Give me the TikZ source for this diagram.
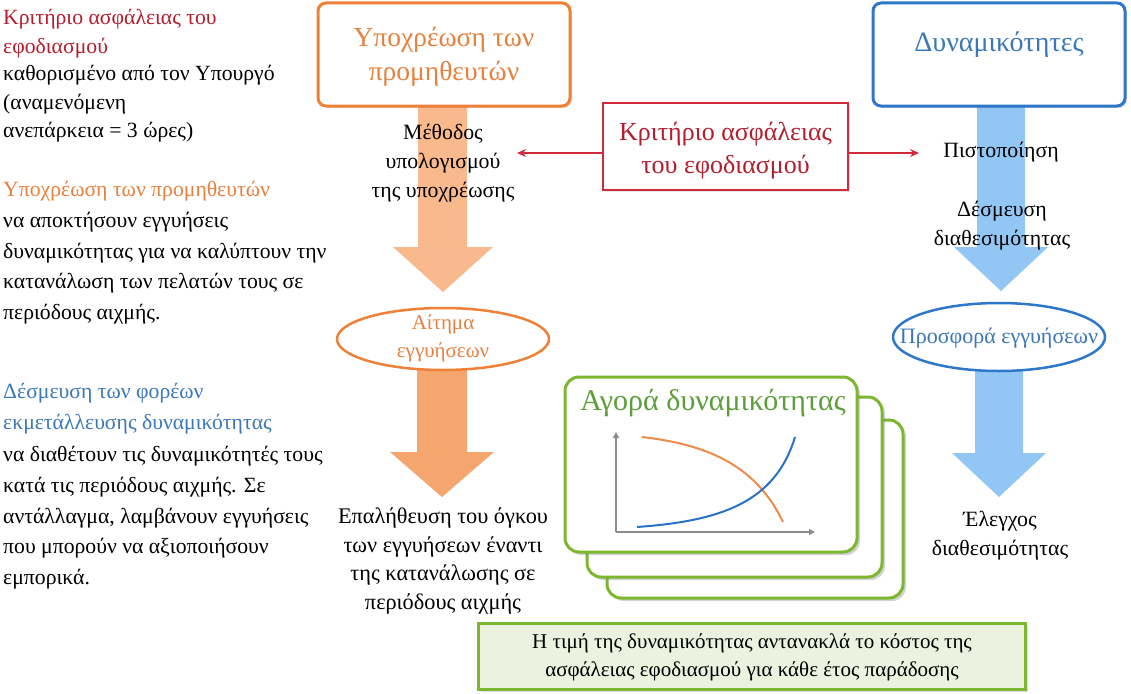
\documentclass[tikz,border=0pt]{standalone}
\usepackage{fontspec}
\setmainfont{Liberation Serif}
\usetikzlibrary{arrows.meta,shapes.geometric,shadows}
\definecolor{cOr}{HTML}{EE8037}
\definecolor{cOrT}{HTML}{E8803E}
\definecolor{cOrA}{HTML}{F8B98C}
\definecolor{cOrB}{HTML}{F5A66E}
\definecolor{cBl}{HTML}{2F78C9}
\definecolor{cBlT}{HTML}{3B78B8}
\definecolor{cBlA}{HTML}{92C6F5}
\definecolor{cRd}{HTML}{D02A3C}
\definecolor{cRdT}{HTML}{B51E2E}
\definecolor{cGr}{HTML}{7DB72F}
\definecolor{cGrT}{HTML}{5E9E3A}
\definecolor{cGrF}{HTML}{EBF2DF}
\definecolor{cAx}{HTML}{8C8C8C}
\definecolor{cCurO}{HTML}{F08A4B}
\definecolor{cCurB}{HTML}{2A72C8}
\begin{document}
\begin{tikzpicture}[x=1pt,y=-1pt,
  lefttxt/.style={anchor=base west,inner sep=0pt,font=\fontsize{21.7}{24}\selectfont},
  midtxt/.style={align=center,inner sep=0pt,font=\fontsize{21.8}{29}\selectfont},
  topbox/.style={draw,line width=3pt,rounded corners=8pt,fill=white,minimum width=252pt,minimum height=103pt,inner sep=0pt,drop shadow={opacity=.25,shadow xshift=2pt,shadow yshift=-2pt}},
  ell/.style={ellipse,draw,line width=2.5pt,fill=white,inner sep=0pt},
  gbox/.style={draw=cGr,line width=3pt,rounded corners=14pt,fill=white,inner sep=0pt,drop shadow={opacity=.35,shadow xshift=3pt,shadow yshift=-3pt}},
  redarr/.style={draw=cRd,line width=2pt,-{Stealth[length=9pt,width=8pt]}},
  axis/.style={draw=cAx,line width=1.6pt,-{Triangle[length=6pt,width=6pt]}}
]
\useasboundingbox (0,0) rectangle (1131,693);

% left texts
\node[lefttxt,text=cRdT] (l1) at (3,25) {Κριτήριο ασφάλειας του};
\node[lefttxt,text=cRdT] (l2) at (3,53) {εφοδιασμού};
\node[lefttxt] (l3) at (3,81) {καθορισμένο από τον Υπουργό};
\node[lefttxt] (l4) at (3,109) {(αναμενόμενη};
\node[lefttxt] (l5) at (3,137) {ανεπάρκεια = 3 ώρες)};

\node[lefttxt,text=cOrT] (m1) at (3,196) {Υποχρέωση των προμηθευτών};
\node[lefttxt] (m2) at (3,227) {να αποκτήσουν εγγυήσεις};
\node[lefttxt] (m3) at (3,258) {δυναμικότητας για να καλύπτουν την};
\node[lefttxt] (m4) at (3,288) {κατανάλωση των πελατών τους σε};
\node[lefttxt] (m5) at (3,319) {περιόδους αιχμής.};

\node[lefttxt,text=cBlT] (n1) at (3,398) {Δέσμευση των φορέων};
\node[lefttxt,text=cBlT] (n2) at (3,429) {εκμετάλλευσης δυναμικότητας};
\node[lefttxt] (n3) at (3,461) {να διαθέτουν τις δυναμικότητές τους};
\node[lefttxt] (n4) at (3,492) {κατά τις περιόδους αιχμής. Σε};
\node[lefttxt] (n5) at (3,523) {αντάλλαγμα, λαμβάνουν εγγυήσεις};
\node[lefttxt] (n6) at (3,553) {που μπορούν να αξιοποιήσουν};
\node[lefttxt] (n7) at (3,584) {εμπορικά.};

% block arrows
\fill[cOrA] (418,104) -- (467,104) -- (467,247) -- (493,247) -- (443,292) -- (393,247) -- (418,247) -- cycle;
\fill[cOrB] (417,368) -- (467,368) -- (467,452) -- (494,452) -- (442,497) -- (390,452) -- (417,452) -- cycle;
\fill[cBlA] (977,104) -- (1025,104) -- (1025,247) -- (1048,247) -- (1001,291) -- (954,247) -- (977,247) -- cycle;
\fill[cBlA] (975,370) -- (1023,370) -- (1023,453) -- (1046,453) -- (999,497) -- (952,453) -- (975,453) -- cycle;

% top boxes
\node[topbox,draw=cOr] (sup) at (444,54.5) {};
\node[midtxt,text=cOrT,font=\fontsize{27.5}{34}\selectfont] (supt) at (444,57) {Υποχρέωση των\\προμηθευτών};
\node[topbox,draw=cBl] (cap) at (999,54.5) {};
\node[midtxt,text=cBlT,font=\fontsize{28}{34}\selectfont] (capt) at (999,45) {Δυναμικότητες};

% red criterion box
\node[draw=cRd,line width=2pt,fill=white,minimum width=245pt,minimum height=87pt,inner sep=0pt,
      drop shadow={opacity=.2,shadow xshift=2pt,shadow yshift=-2pt}] (crit) at (725.5,146.5) {};
\node[midtxt,text=cRdT,font=\fontsize{26}{33}\selectfont] (critt) at (725.5,151) {Κριτήριο ασφάλειας\\του εφοδιασμού};
\coordinate (rl) at (517,153);
\coordinate (rr) at (919,153);
\draw[redarr] ([yshift=-6.5pt]crit.west) -- (rl);
\draw[redarr] ([yshift=-6.5pt]crit.east) -- (rr);

% mid texts
\node[midtxt] (meth) at (443,163) {Μέθοδος\\υπολογισμού\\της υποχρέωσης};
\node[midtxt] (pist) at (1001,152) {Πιστοποίηση};
\node[midtxt] (desm) at (1002,226) {Δέσμευση\\διαθεσιμότητας};

% ellipses
\node[ell,draw=cOr,minimum width=212pt,minimum height=62pt] (req) at (443,339) {};
\node[midtxt,text=cOrT,font=\fontsize{21}{28}\selectfont] (reqt) at (443,338) {Αίτημα\\εγγυήσεων};
\node[ell,draw=cBl,minimum width=212pt,minimum height=68pt] (off) at (999,337) {};
\node[midtxt,text=cBlT,font=\fontsize{22}{28}\selectfont] (offt) at (999,338) {Προσφορά εγγυήσεων};

\node[midtxt,font=\fontsize{22.3}{28.5}\selectfont] (ver) at (443,561) {Επαλήθευση του όγκου\\των εγγυήσεων έναντι\\της κατανάλωσης σε\\περιόδους αιχμής};
\node[midtxt] (chk) at (1000,536) {Έλεγχος\\διαθεσιμότητας};

% market stack
\node[gbox,minimum width=296pt,minimum height=178pt] (g3) at (755,509) {};
\node[gbox,minimum width=295pt,minimum height=180pt] (g2) at (734.5,487) {};
\node[gbox,minimum width=292pt,minimum height=175pt] (g1) at (711,464.5) {};
\node[midtxt,text=cGrT,font=\fontsize{30}{32}\selectfont] (mkt) at (713,403) {Αγορά δυναμικότητας};
\coordinate (org) at (616,532);
\coordinate (yend) at (616,432);
\coordinate (xend) at (815,532);
\draw[axis] (org) -- (yend);
\draw[axis] (org) -- (xend);
\draw[cCurO,line width=2pt] (642,437) .. controls (712,445) and (757,468) .. (783,522);
\draw[cCurB,line width=2pt] (637,527) .. controls (720,521) and (775,503) .. (795,437);

% bottom box
\node[draw=cGr,line width=3pt,fill=cGrF,minimum width=547pt,minimum height=66pt,inner sep=0pt,
      drop shadow={opacity=.25,shadow xshift=2pt,shadow yshift=-2pt}] (price) at (752,656.5) {};
\node[midtxt,font=\fontsize{21}{28}\selectfont] (pricet) at (752,657) {Η τιμή της δυναμικότητας αντανακλά το κόστος της\\ασφάλειας εφοδιασμού για κάθε έτος παράδοσης};
\end{tikzpicture}
\end{document}
